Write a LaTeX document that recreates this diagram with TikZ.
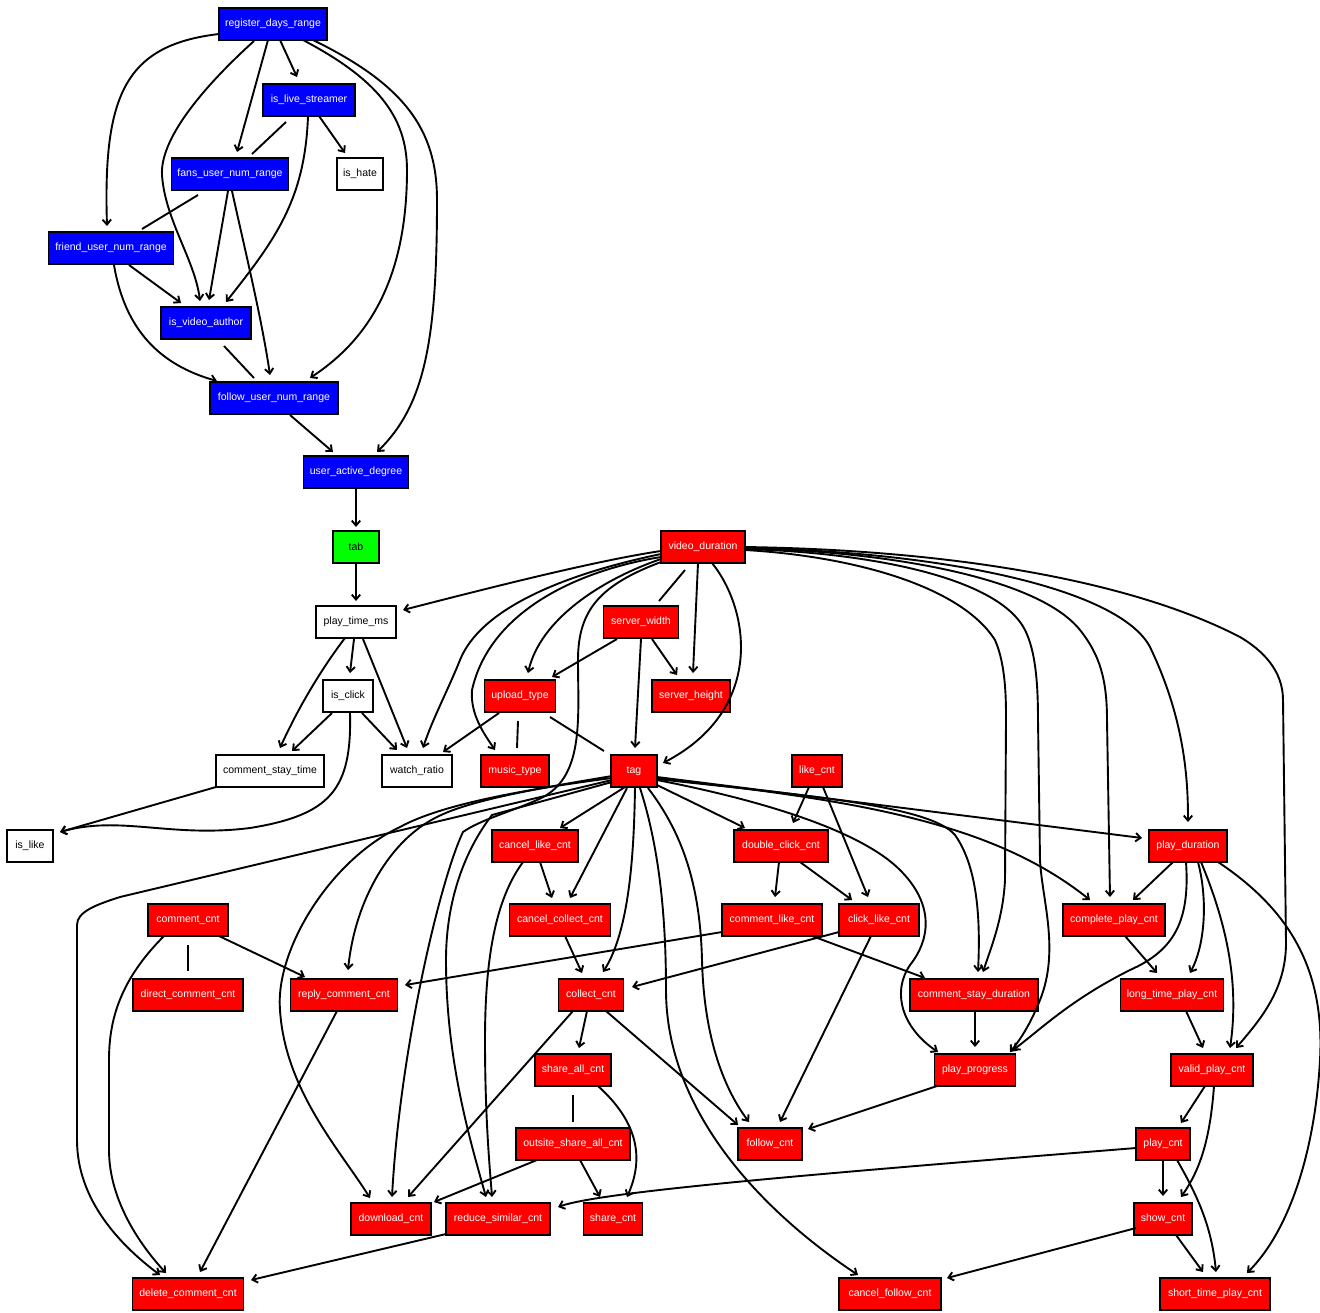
\documentclass[tikz,border=0pt]{standalone}
\usepackage{fontspec}
\setmainfont{Liberation Sans}
\usetikzlibrary{arrows.meta}
\newcommand\fsz{\fontsize{10.5}{12}\selectfont}
\begin{document}
\begin{tikzpicture}[x=1pt,y=-1pt,
  box/.style={draw=black,line width=1.9pt,minimum height=32pt,inner sep=0pt,font=\fsz},
  bl/.style={box,fill=blue,text=white},
  rd/.style={box,fill=red,text=white},
  gr/.style={box,fill=green,text=black},
  wh/.style={box,fill=white,text=black},
  arr/.style={line width=1.9pt,-{Straight Barb[length=5pt,width=8.5pt]}},
  plain/.style={line width=1.9pt}]
\useasboundingbox (0,0) rectangle (1320,1312);
% nodes
\node[bl,minimum width=108pt] (reg) at (273,24) {register\_days\_range};
\node[bl,minimum width=92pt] (live) at (309,100) {is\_live\_streamer};
\node[bl,minimum width=117pt] (fans) at (230,174) {fans\_user\_num\_range};
\node[wh,minimum width=46pt] (hate) at (360,174) {is\_hate};
\node[bl,minimum width=125pt] (friend) at (111,248) {friend\_user\_num\_range};
\node[bl,minimum width=90pt] (author) at (206,323) {is\_video\_author};
\node[bl,minimum width=128pt] (follow) at (274,398) {follow\_user\_num\_range};
\node[bl,minimum width=105pt] (active) at (356,472) {user\_active\_degree};
\node[gr,minimum width=46pt] (tab) at (356,547) {tab};
\node[wh,minimum width=80pt] (ptm) at (356,622) {play\_time\_ms};
\node[wh,minimum width=50pt] (click) at (348,696) {is\_click};
\node[wh,minimum width=108pt] (cst) at (270,771) {comment\_stay\_time};
\node[wh,minimum width=70pt] (wr) at (417,771) {watch\_ratio};
\node[wh,minimum width=46pt] (islike) at (30,846) {is\_like};
\node[rd,minimum width=84pt] (vd) at (703,547) {video\_duration};
\node[rd,minimum width=75pt] (sw) at (641,622) {server\_width};
\node[rd,minimum width=71pt] (ut) at (520,696) {upload\_type};
\node[rd,minimum width=78pt] (sh) at (691,696) {server\_height};
\node[rd,minimum width=68pt] (mt) at (515,771) {music\_type};
\node[rd,minimum width=46pt] (tag) at (634,771) {tag};
\node[rd,minimum width=50pt] (like) at (817,771) {like\_cnt};
\node[rd,minimum width=86pt] (clc) at (535,846) {cancel\_like\_cnt};
\node[rd,minimum width=94pt] (dcc) at (781,846) {double\_click\_cnt};
\node[rd,minimum width=78pt] (pd) at (1188,846) {play\_duration};
\node[rd,minimum width=80pt] (cc) at (188,920) {comment\_cnt};
\node[rd,minimum width=101pt] (ccc) at (560,920) {cancel\_collect\_cnt};
\node[rd,minimum width=100pt] (clk) at (772,920) {comment\_like\_cnt};
\node[rd,minimum width=80pt] (clikec) at (879,920) {click\_like\_cnt};
\node[rd,minimum width=102pt] (cpc) at (1114,920) {complete\_play\_cnt};
\node[rd,minimum width=110pt] (dcom) at (188,995) {direct\_comment\_cnt};
\node[rd,minimum width=107pt] (rcc) at (344,995) {reply\_comment\_cnt};
\node[rd,minimum width=65pt] (col) at (591,995) {collect\_cnt};
\node[rd,minimum width=128pt] (csd) at (974,995) {comment\_stay\_duration};
\node[rd,minimum width=103pt] (ltp) at (1172,995) {long\_time\_play\_cnt};
\node[rd,minimum width=76pt] (sac) at (573,1070) {share\_all\_cnt};
\node[rd,minimum width=81pt] (pp) at (975,1070) {play\_progress};
\node[rd,minimum width=82pt] (vpc) at (1212,1070) {valid\_play\_cnt};
\node[rd,minimum width=114pt] (osac) at (573,1144) {outsite\_share\_all\_cnt};
\node[rd,minimum width=64pt] (fc) at (770,1144) {follow\_cnt};
\node[rd,minimum width=54pt] (pc) at (1163,1144) {play\_cnt};
\node[rd,minimum width=80pt] (dl) at (391,1219) {download\_cnt};
\node[rd,minimum width=104pt] (rsc) at (498,1219) {reduce\_similar\_cnt};
\node[rd,minimum width=59pt] (sc) at (613,1219) {share\_cnt};
\node[rd,minimum width=58pt] (shc) at (1163,1219) {show\_cnt};
\node[rd,minimum width=111pt] (dcm) at (188,1294) {delete\_comment\_cnt};
\node[rd,minimum width=102pt] (cfc) at (890,1294) {cancel\_follow\_cnt};
\node[rd,minimum width=110pt] (stp) at (1215,1294) {short\_time\_play\_cnt};
% top cluster
\draw[arr] ([shift={(-54,10)}]reg.center) .. controls (125,45) and (103,95) .. ([shift={(-4,-22)}]friend.center);
\draw[arr] ([shift={(-19,17)}]reg.center) .. controls (200,90) and (160,140) .. (162,175) .. controls (165,220) and (195,260) .. ([shift={(-6,-22)}]author.center);
\draw[arr] ([shift={(-5,16)}]reg.center) -- ([shift={(7,-22)}]fans.center);
\draw[arr] ([shift={(7,16)}]reg.center) -- ([shift={(-12,-23)}]live.center);
\draw[arr] ([shift={(30,16)}]reg.center) .. controls (375,78) and (407,115) .. (407,170) .. controls (407,290) and (360,345) .. ([shift={(36,-20)}]follow.center);
\draw[arr] ([shift={(40,16)}]reg.center) .. controls (405,85) and (437,130) .. (437,200) .. controls (437,340) and (425,405) .. ([shift={(21,-20)}]active.center);
\draw[plain] ([shift={(-23,22)}]live.center) -- ([shift={(22,-20)}]fans.center);
\draw[arr] ([shift={(-1,16)}]live.center) .. controls (305,200) and (275,240) .. ([shift={(20,-21)}]author.center);
\draw[arr] ([shift={(10,16)}]live.center) -- ([shift={(-15,-21)}]hate.center);
\draw[plain] ([shift={(-32,21)}]fans.center) -- ([shift={(31,-19)}]friend.center);
\draw[arr] ([shift={(-2,17)}]fans.center) -- ([shift={(3,-23)}]author.center);
\draw[arr] ([shift={(2,17)}]fans.center) .. controls (245,250) and (262,320) .. ([shift={(-4,-23)}]follow.center);
\draw[arr] ([shift={(18,17)}]friend.center) -- ([shift={(-25,-20)}]author.center);
\draw[arr] ([shift={(3,17)}]friend.center) .. controls (125,330) and (160,365) .. ([shift={(-57,-17)}]follow.center);
\draw[plain] ([shift={(18,23)}]author.center) -- ([shift={(-20,-20)}]follow.center);
\draw[arr] ([shift={(16,17)}]follow.center) -- ([shift={(-23,-20)}]active.center);
\draw[arr] ([shift={(0,17)}]active.center) -- ([shift={(0,-20)}]tab.center);
\draw[arr] ([shift={(0,16)}]tab.center) -- ([shift={(0,-21)}]ptm.center);
% play_time / click
\draw[arr] ([shift={(-42,4)}]vd.center) .. controls (600,560) and (500,585) .. ([shift={(47,-12)}]ptm.center);
\draw[arr] ([shift={(-11,16)}]ptm.center) .. controls (322,668) and (298,708) .. ([shift={(10,-23)}]cst.center);
\draw[arr] ([shift={(-2,17)}]ptm.center) -- ([shift={(2,-23)}]click.center);
\draw[arr] ([shift={(7,17)}]ptm.center) -- ([shift={(-10,-23)}]wr.center);
\draw[arr] ([shift={(-16,17)}]click.center) -- ([shift={(22,-20)}]cst.center);
\draw[arr] ([shift={(14,17)}]click.center) -- ([shift={(-20,-21)}]wr.center);
\draw[arr] ([shift={(2,17)}]click.center) .. controls (352,790) and (330,815) .. (250,828) .. controls (170,838) and (120,815) .. ([shift={(30,-14)}]islike.center);
\draw[arr] ([shift={(-54,16)}]cst.center) -- ([shift={(30,-14)}]islike.center);
% video_duration
\draw[arr] ([shift={(-42,7)}]vd.center) .. controls (560,575) and (480,610) .. (460,660) .. controls (448,690) and (432,720) .. ([shift={(6,-23)}]wr.center);
\draw[arr] ([shift={(-42,10)}]vd.center) .. controls (580,570) and (490,610) .. (472,690) .. controls (470,715) and (485,735) .. ([shift={(-20,-21)}]mt.center);
\draw[arr] ([shift={(-42,12)}]vd.center) .. controls (600,580) and (540,620) .. ([shift={(8,-23)}]ut.center);
\draw[arr] ([shift={(-42,15)}]vd.center) .. controls (600,585) and (578,610) .. (578,660) .. controls (578,720) and (585,780) .. (537,800) .. controls (510,812) and (480,820) .. (463,832) .. controls (440,880) and (400,1050) .. ([shift={(1,-22)}]dl.center);
\draw[arr] ([shift={(-5,16)}]vd.center) -- ([shift={(2,-23)}]sh.center);
\draw[plain] ([shift={(-18,23)}]vd.center) -- ([shift={(18,-21)}]sw.center);
\draw[arr] ([shift={(9,16)}]vd.center) .. controls (750,610) and (765,710) .. ([shift={(29,-8)}]tag.center);
\draw[arr] ([shift={(42,3)}]vd.center) .. controls (850,556) and (960,585) .. (995,640) .. controls (1006,665) and (1006,700) .. (1006,720) -- (1005,880) .. controls (1003,920) and (990,950) .. ([shift={(9,-23)}]csd.center);
\draw[arr] ([shift={(42,2)}]vd.center) .. controls (880,553) and (1000,580) .. (1025,630) .. controls (1035,650) and (1038,680) .. (1038,720) -- (1040,860) .. controls (1042,900) and (1060,950) .. (1040,1000) .. controls (1030,1025) and (1020,1040) .. ([shift={(35,-18)}]pp.center);
\draw[arr] ([shift={(42,1)}]vd.center) .. controls (900,552) and (1040,580) .. (1080,630) .. controls (1100,655) and (1107,680) .. (1107,720) -- ([shift={(-4,-23)}]cpc.center);
\draw[arr] ([shift={(42,1)}]vd.center) .. controls (950,552) and (1120,590) .. (1150,647) .. controls (1185,720) and (1188,780) .. ([shift={(0,-24)}]pd.center);
\draw[arr] ([shift={(42,0)}]vd.center) .. controls (950,550) and (1130,580) .. (1240,637) .. controls (1262,650) and (1283,670) .. (1283,700) -- (1286,943) .. controls (1286,990) and (1260,1020) .. ([shift={(24,-22)}]vpc.center);
% server_width / upload_type
\draw[arr] ([shift={(-24,17)}]sw.center) -- ([shift={(32,-19)}]ut.center);
\draw[arr] ([shift={(11,17)}]sw.center) -- ([shift={(-14,-21)}]sh.center);
\draw[arr] ([shift={(0,17)}]sw.center) -- ([shift={(1,-23)}]tag.center);
\draw[arr] ([shift={(-21,17)}]ut.center) -- ([shift={(26,-19)}]wr.center);
\draw[plain] ([shift={(-2,25)}]ut.center) -- ([shift={(2,-23)}]mt.center);
\draw[plain] ([shift={(30,21)}]ut.center) -- ([shift={(-30,-20)}]tag.center);
% tag
\draw[arr] ([shift={(-22,9)}]tag.center) -- (120,897) .. controls (95,905) and (77,912) .. (77,925) -- (77,1140) .. controls (77,1200) and (120,1245) .. ([shift={(-28,-19)}]dcm.center);
\draw[arr] ([shift={(-22,7)}]tag.center) .. controls (520,790) and (440,805) .. (400,827) .. controls (330,860) and (275,950) .. (280,1010) .. controls (285,1090) and (340,1150) .. ([shift={(-21,-21)}]dl.center);
\draw[arr] ([shift={(-22,5)}]tag.center) .. controls (540,788) and (470,800) .. (437,817) .. controls (390,840) and (355,900) .. ([shift={(4,-25)}]rcc.center);
\draw[arr] ([shift={(-22,11)}]tag.center) -- (492,815) .. controls (465,850) and (446,900) .. (446,960) .. controls (446,1060) and (470,1140) .. ([shift={(-12,-22)}]rsc.center);
\draw[arr] ([shift={(-9,16)}]tag.center) -- ([shift={(25,-18)}]clc.center);
\draw[arr] ([shift={(-7,17)}]tag.center) -- ([shift={(10,-22)}]ccc.center);
\draw[arr] ([shift={(1,17)}]tag.center) .. controls (634,850) and (630,930) .. ([shift={(12,-23)}]col.center);
\draw[arr] ([shift={(14,17)}]tag.center) .. controls (680,830) and (700,880) .. (702,960) .. controls (704,1040) and (725,1090) .. ([shift={(-21,-22)}]fc.center);
\draw[arr] ([shift={(6,17)}]tag.center) .. controls (660,850) and (666,920) .. (666,990) .. controls (666,1110) and (760,1210) .. ([shift={(-32,-19)}]cfc.center);
\draw[arr] ([shift={(23,14)}]tag.center) -- ([shift={(-36,-18)}]dcc.center);
\draw[arr] ([shift={(23,6)}]tag.center) -- ([shift={(-46,-8)}]pd.center);
\draw[arr] ([shift={(23,9)}]tag.center) .. controls (760,800) and (860,830) .. (900,870) .. controls (935,905) and (930,940) .. (910,965) .. controls (890,995) and (905,1030) .. ([shift={(-37,-18)}]pp.center);
\draw[arr] ([shift={(23,8)}]tag.center) .. controls (800,795) and (930,805) .. (955,835) .. controls (980,870) and (980,930) .. ([shift={(4,-23)}]csd.center);
\draw[arr] ([shift={(23,7)}]tag.center) .. controls (850,800) and (990,820) .. ([shift={(-24,-20)}]cpc.center);
% like / double click
\draw[arr] ([shift={(-8,16)}]like.center) -- ([shift={(12,-23)}]dcc.center);
\draw[arr] ([shift={(6,16)}]like.center) -- ([shift={(-11,-23)}]clikec.center);
\draw[arr] ([shift={(-2,16)}]dcc.center) -- ([shift={(3,-23)}]clk.center);
\draw[arr] ([shift={(19,16)}]dcc.center) -- ([shift={(-27,-20)}]clikec.center);
\draw[arr] ([shift={(-50,12)}]clk.center) -- ([shift={(61,-10)}]rcc.center);
\draw[arr] ([shift={(40,16)}]clk.center) -- ([shift={(-49,-17)}]csd.center);
\draw[arr] ([shift={(-40,12)}]clikec.center) -- ([shift={(41,-8)}]col.center);
\draw[arr] ([shift={(-8,16)}]clikec.center) -- ([shift={(10,-22)}]fc.center);
% cancel like / collect
\draw[arr] ([shift={(5,16)}]clc.center) -- ([shift={(-8,-22)}]ccc.center);
\draw[arr] ([shift={(-12,16)}]clc.center) .. controls (495,900) and (485,960) .. (485,1040) .. controls (485,1120) and (490,1170) .. ([shift={(-6,-22)}]rsc.center);
\draw[arr] ([shift={(5,16)}]ccc.center) -- ([shift={(-9,-22)}]col.center);
% comments
\draw[plain] ([shift={(0,25)}]cc.center) -- ([shift={(0,-24)}]dcom.center);
\draw[arr] ([shift={(31,16)}]cc.center) -- ([shift={(-39,-18)}]rcc.center);
\draw[arr] ([shift={(-24,16)}]cc.center) .. controls (120,980) and (109,1020) .. (109,1060) -- (109,1150) .. controls (109,1200) and (140,1245) .. ([shift={(-22,-21)}]dcm.center);
\draw[arr] ([shift={(-7,16)}]rcc.center) -- ([shift={(12,-22)}]dcm.center);
\draw[arr] ([shift={(-52,15)}]rsc.center) -- ([shift={(63,-14)}]dcm.center);
% collect / share
\draw[arr] ([shift={(-4,16)}]col.center) -- ([shift={(6,-22)}]sac.center);
\draw[arr] ([shift={(-18,16)}]col.center) -- ([shift={(17,-22)}]dl.center);
\draw[arr] ([shift={(15,16)}]col.center) -- ([shift={(-32,-19)}]fc.center);
\draw[plain] ([shift={(0,25)}]sac.center) -- ([shift={(0,-22)}]osac.center);
\draw[arr] ([shift={(25,16)}]sac.center) .. controls (630,1115) and (648,1150) .. ([shift={(14,-22)}]sc.center);
\draw[arr] ([shift={(7,16)}]osac.center) -- ([shift={(-13,-22)}]sc.center);
\draw[arr] ([shift={(-36,16)}]osac.center) -- ([shift={(43,-17)}]dl.center);
\draw[arr] ([shift={(-27,4)}]pc.center) .. controls (800,1175) and (600,1192) .. ([shift={(60,-12)}]rsc.center);
% play chain
\draw[arr] ([shift={(-38,16)}]pp.center) -- ([shift={(38,-15)}]fc.center);
\draw[arr] ([shift={(1,16)}]csd.center) -- ([shift={(0,-23)}]pp.center);
\draw[arr] ([shift={(-15,16)}]pd.center) -- ([shift={(19,-20)}]cpc.center);
\draw[arr] ([shift={(-2,16)}]pd.center) .. controls (1190,920) and (1175,950) .. (1130,970) .. controls (1070,1000) and (1040,1030) .. ([shift={(38,-20)}]pp.center);
\draw[arr] ([shift={(10,16)}]pd.center) .. controls (1208,900) and (1205,945) .. ([shift={(18,-22)}]ltp.center);
\draw[arr] ([shift={(13,16)}]pd.center) .. controls (1225,920) and (1240,980) .. ([shift={(18,-22)}]vpc.center);
\draw[arr] ([shift={(30,16)}]pd.center) .. controls (1290,910) and (1325,970) .. (1320,1060) .. controls (1315,1150) and (1290,1230) .. ([shift={(32,-21)}]stp.center);
\draw[arr] ([shift={(11,16)}]cpc.center) -- ([shift={(-15,-22)}]ltp.center);
\draw[arr] ([shift={(14,16)}]ltp.center) -- ([shift={(-9,-22)}]vpc.center);
\draw[arr] ([shift={(-7,16)}]vpc.center) -- ([shift={(18,-21)}]pc.center);
\draw[arr] ([shift={(2,16)}]vpc.center) .. controls (1210,1140) and (1200,1170) .. ([shift={(18,-22)}]shc.center);
\draw[arr] ([shift={(0,16)}]pc.center) -- ([shift={(0,-23)}]shc.center);
\draw[arr] ([shift={(14,16)}]pc.center) .. controls (1200,1200) and (1212,1230) .. ([shift={(1,-22)}]stp.center);
\draw[arr] ([shift={(-27,9)}]shc.center) -- ([shift={(57,-16)}]cfc.center);
\draw[arr] ([shift={(13,16)}]shc.center) -- ([shift={(-12,-22)}]stp.center);
\end{tikzpicture}
\end{document}
